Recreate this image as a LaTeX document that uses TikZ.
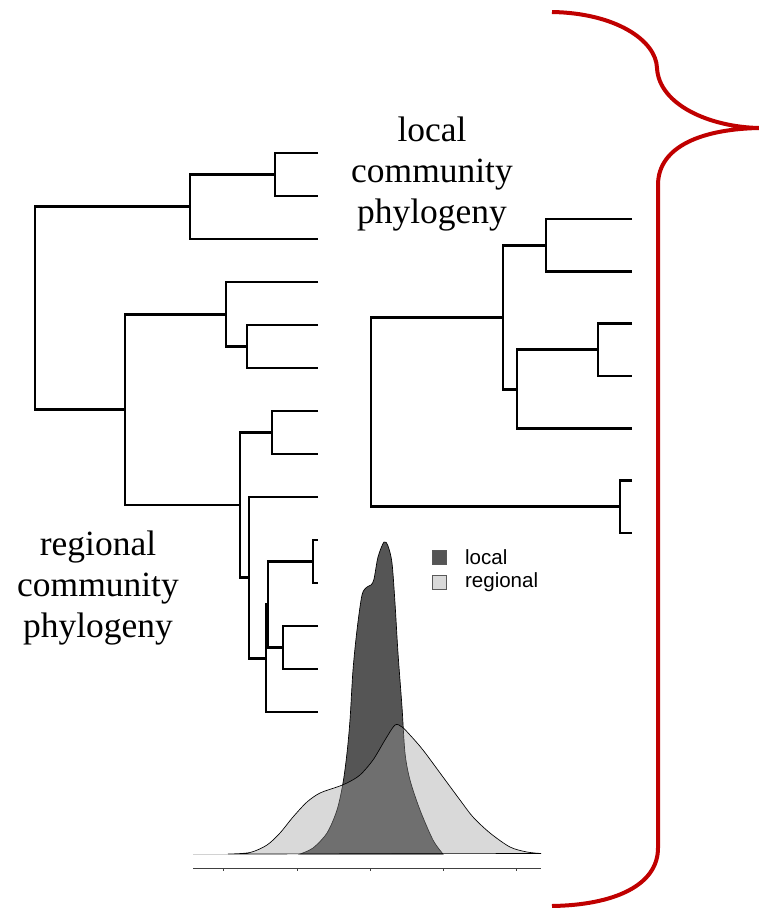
\documentclass[tikz,border=0pt]{standalone}
\usepackage{fontspec}
\setmainfont{Liberation Serif}
\setsansfont{Liberation Sans}
\usetikzlibrary{positioning}
\definecolor{bracered}{HTML}{C00000}
\definecolor{localgray}{HTML}{555555}
\definecolor{regionalgray}{HTML}{9B9B9B}
\definecolor{regionalkey}{HTML}{D9D9D9}
\tikzset{
  branch/.style={draw=black,line width=2.1pt},
  treelabel/.style={align=center,inner sep=0pt,
                    font=\fontsize{26.6}{30.8}\selectfont},
  legendkey/.style={draw=black!65,line width=0.5pt,minimum size=10.5pt,
                    inner sep=0pt},
  legendtext/.style={inner sep=0pt,font=\sffamily\fontsize{15.4}{18}\selectfont},
  localdens/.style={fill=localgray,draw=black,line width=0.5pt},
  regionaldens/.style={fill=regionalgray,fill opacity=0.38,draw=black,
                       line width=0.5pt},
  axisline/.style={draw=black!75,line width=0.75pt},
  redbrace/.style={draw=bracered,line width=3pt}
}

\begin{document}
\begin{tikzpicture}[x=0.75pt,y=-0.75pt]
    \useasboundingbox (0,0) rectangle (759,908);

    % regional tree: tips and inner nodes
    \coordinate (r1) at (318,153);   \coordinate (r2) at (318,196);
    \coordinate (r3) at (318,239);   \coordinate (r4) at (318,282);
    \coordinate (r5) at (318,325);   \coordinate (r6) at (318,368);
    \coordinate (r7) at (318,411);   \coordinate (r8) at (318,454);
    \coordinate (r9) at (318,497);   \coordinate (r10) at (318,540);
    \coordinate (r11) at (318,583);  \coordinate (r12) at (318,626);
    \coordinate (r13) at (318,669);  \coordinate (r14) at (318,712);
    \coordinate (rA) at (275,174.5);
    \coordinate (rB) at (190,206.75);
    \coordinate (rC) at (247,346.5);
    \coordinate (rD) at (226,314.25);
    \coordinate (rE) at (272,432.5);
    \coordinate (rF) at (313,561.5);
    \coordinate (rG) at (283,647.5);
    \coordinate (rH) at (268,604.5);
    \coordinate (rI) at (266,658.25);
    \coordinate (rJ) at (249,577.6);
    \coordinate (rK) at (240,505);
    \coordinate (rL) at (125,409.6);
    \coordinate (rroot) at (35,308.2);
    \draw[branch] (r1) -| (rA) |- (r2);
    \draw[branch] (rA) -| (rB) |- (r3);
    \draw[branch] (r5) -| (rC) |- (r6);
    \draw[branch] (r4) -| (rD) |- (rC);
    \draw[branch] (r7) -| (rE) |- (r8);
    \draw[branch] (r10) -| (rF) |- (r11);
    \draw[branch] (r12) -| (rG) |- (r13);
    \draw[branch] (rF) -| (rH) |- (rG);
    \draw[branch] (rH) -| (rI) |- (r14);
    \draw[branch] (r9) -| (rJ) |- (rI);
    \draw[branch] (rE) -| (rK) |- (rJ);
    \draw[branch] (rD) -| (rL) |- (rK);
    \draw[branch] (rB) -| (rroot) |- (rL);

    % local tree
    \coordinate (l1) at (632,219);   \coordinate (l2) at (632,271.3);
    \coordinate (l3) at (632,323.7); \coordinate (l4) at (632,376);
    \coordinate (l5) at (632,428.3); \coordinate (l6) at (632,480.7);
    \coordinate (l7) at (632,533);
    \coordinate (lA) at (546,245.2);
    \coordinate (lB) at (598,349.8);
    \coordinate (lC) at (517,389.1);
    \coordinate (lD) at (503,317.1);
    \coordinate (lE) at (620,506.8);
    \coordinate (lroot) at (371,412);
    \draw[branch] (l1) -| (lA) |- (l2);
    \draw[branch] (l3) -| (lB) |- (l4);
    \draw[branch] (lB) -| (lC) |- (l5);
    \draw[branch] (lA) -| (lD) |- (lC);
    \draw[branch] (l6) -| (lE) |- (l7);
    \draw[branch] (lD) -| (lroot) |- (lE);

    \node[treelabel] (locallabel) at (432,174) {local\\community\\phylogeny};
    \node[treelabel] (regionallabel) at (98,588) {regional\\community\\phylogeny};

    % densities
    \draw[localdens] plot[smooth] coordinates {(300,854) (313,848) (327,833)
      (337,810) (343,783) (347,753) (350,720) (353,670) (357,630) (362,595)
      (367,587) (371,585) (374,579) (378,557) (384,542) (388,546) (392,563)
      (395,603) (398,653) (402,707) (405,753) (410,780) (420,810) (433,840)
      (443,854)} -- cycle;
    \draw[regionaldens] plot[smooth] coordinates {(228,854) (250,852.5)
      (267,845) (280,833) (293,817) (307,802) (320,793) (337,787) (347,783)
      (360,775) (373,760) (385,740) (395,725) (402,727) (410,735) (423,750)
      (443,777) (460,800) (473,817) (490,833) (510,847) (527,852)
      (541,853.5)} -- cycle;
    \draw[gray!35,line width=0.75pt] (193,854) -- (228,854);
    \draw[axisline] (193,868) -- (541,868)
      (223,868) -- (223,871) (297,868) -- (297,871) (370,868) -- (370,871)
      (443,868) -- (443,871) (516,868) -- (516,871);

    % legend
    \node[legendkey,fill=localgray] (localkey) at (439.5,557) {};
    \node[legendkey,fill=regionalkey] (regionalkey) at (439.5,582.5) {};
    \node[legendtext,right=13.5pt of localkey] (localtext) {local};
    \node[legendtext,right=13.5pt of regionalkey] (regionaltext) {regional};

    % red brace
    \draw[redbrace] (552,12) .. controls (615,13) and (656,40) .. (657,68)
      .. controls (659,105) and (710,127) .. (759,128)
      .. controls (705,129) and (658,145) .. (658,185) -- (658,848)
      .. controls (658,885) and (615,905) .. (552,906);
\end{tikzpicture}
\end{document}
